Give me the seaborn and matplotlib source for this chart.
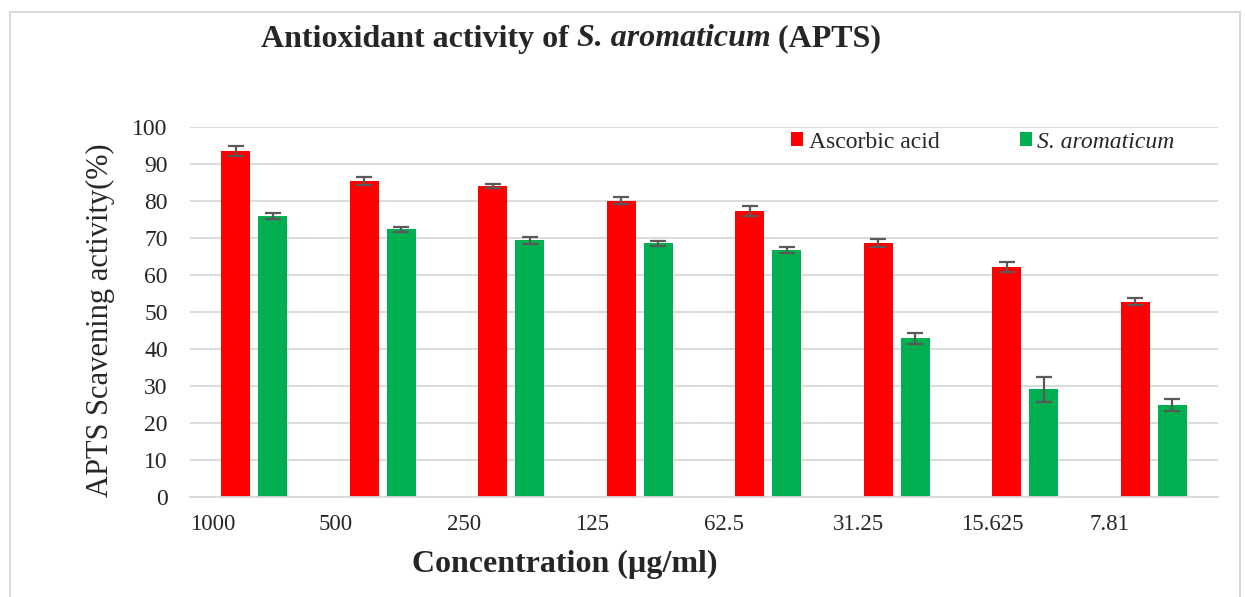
import matplotlib
matplotlib.use("Agg")
import matplotlib.pyplot as plt
import matplotlib.patches as mpatches
import seaborn as sns
import pandas as pd
import numpy as np

# Datos
concentraciones = ["1000", "500", "250", "125", "62.5", "31.25", "15.625", "7.81"]
ascorbic = [93.6, 85.4, 84.1, 80.1, 77.3, 68.6, 62.1, 52.8]
ascorbic_err = [1.35, 1.15, 0.55, 1.0, 1.3, 1.0, 1.35, 0.95]
aromaticum = [75.9, 72.3, 69.4, 68.6, 66.7, 42.9, 29.1, 24.9]
aromaticum_err = [0.85, 0.75, 1.0, 0.7, 0.75, 1.5, 3.4, 1.6]
series = ["Ascorbic acid", "S. aromaticum"]
colores = ["#FF0000", "#00B050"]

df = pd.DataFrame({
    "conc": concentraciones * 2,
    "valor": ascorbic + aromaticum,
    "serie": [series[0]] * len(concentraciones) + [series[1]] * len(concentraciones),
})

sns.set_style("white")
plt.rcParams["font.family"] = ["Liberation Serif", "DejaVu Serif"]

W, H = 1245, 597
fig = plt.figure(figsize=(W / 100, H / 100), dpi=100)
ax = fig.add_axes([190 / W, 1 - 497 / H, (1218 - 190) / W, (497 - 127) / H])

sns.barplot(data=df, x="conc", y="valor", hue="serie", order=concentraciones,
            hue_order=series, palette=colores, saturation=1, width=0.575, gap=0.216,
            linewidth=0, ax=ax, errorbar=None)

# barras de error sobre cada serie
for cont, errs in zip(ax.containers, [ascorbic_err, aromaticum_err]):
    xs = [p.get_x() + p.get_width() / 2 for p in cont]
    ys = [p.get_height() for p in cont]
    ax.errorbar(xs, ys, yerr=errs, fmt="none", ecolor="#595959",
                elinewidth=1.6, capsize=6, capthick=1.6, zorder=5)

ax.set_ylim(0, 100)
ax.set_xlim(-0.5, len(concentraciones) - 0.5)
ax.set_yticks(np.arange(0, 101, 10))
ax.set_xticks(np.arange(len(concentraciones)) - 0.5)
ax.set_xticklabels(concentraciones, ha="left")
ax.tick_params(axis="y", length=0, pad=16, labelsize=17)
ax.tick_params(axis="x", length=0, pad=12, labelsize=16.5)
ax.set_xlabel("")
ax.set_ylabel("")

ax.yaxis.grid(True, color="#D9D9D9", linewidth=1.3)
ax.set_axisbelow(True)
for s in ["top", "left", "right"]:
    ax.spines[s].set_visible(False)
ax.spines["bottom"].set_color("#D9D9D9")
ax.spines["bottom"].set_linewidth(1.3)

handles, labels = ax.get_legend_handles_labels()
leg = ax.legend(handles, labels, ncol=2, loc="center left",
                bbox_to_anchor=(791 / W, 1 - 142 / H), bbox_transform=fig.transFigure,
                frameon=False, fontsize=17, handlelength=0.5, handleheight=0.5,
                handletextpad=0.25, columnspacing=3.4, borderpad=0, borderaxespad=0)
leg.get_texts()[1].set_style("italic")

# titulo en tres trozos (negrita / negrita cursiva / negrita)
trozos = [("Antioxidant activity of ", "normal"), ("S. aromaticum", "italic"), (" (APTS)", "normal")]
renderer = fig.canvas.get_renderer()
textos = []
for txt, estilo in trozos:
    t = fig.text(0, 1 - 39 / H, txt, ha="left", va="center", fontsize=23,
                 fontweight="bold", fontstyle=estilo)
    textos.append(t)
anchos = [t.get_window_extent(renderer).width for t in textos]
x0 = 571 - sum(anchos) / 2
for t, w in zip(textos, anchos):
    t.set_x(x0 / W)
    x0 += w

fig.text(565 / W, 1 - 564 / H, "Concentration (µg/ml)", ha="center", va="center",
         fontsize=23, fontweight="bold")
fig.text(100 / W, 1 - 320 / H, "APTS Scavening activity(%)", ha="center", va="center",
         rotation=90, fontsize=22)

# marco exterior del grafico
marco = mpatches.Rectangle((10 / W, -0.05), (1240 - 10) / W, 1.05 - 12 / H,
                           transform=fig.transFigure, fill=False,
                           edgecolor="#D9D9D9", linewidth=1.5)
fig.patches.append(marco)

fig.savefig("out.png", dpi=100)
